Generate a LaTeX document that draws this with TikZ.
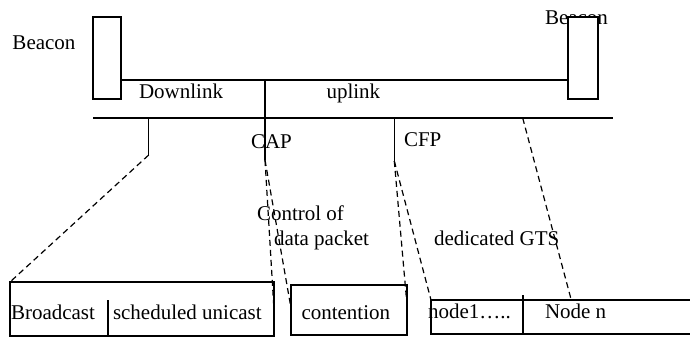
\documentclass[tikz,border=0pt]{standalone}
\usepackage{fontspec}
\setmainfont{Liberation Serif}
\begin{document}
\begin{tikzpicture}[x=1pt,y=-1pt,
 lbl/.style={anchor=base west, inner sep=0pt, outer sep=0pt, font=\fontsize{21}{25}\selectfont},
 solidline/.style={line width=1.4pt},
 dashline/.style={line width=1.2pt, dash pattern=on 6pt off 4pt},
 beaconbox/.style={draw, line width=1.4pt, fill=white, minimum height=82pt, inner sep=0pt, outer sep=0pt}]
\useasboundingbox (0,0) rectangle (690,338);

% labels
\node[lbl] (lbeacon) at (12.5,49.3) {Beacon};
\node[lbl] (rbeacon) at (545,24) {Beacon};
\node[lbl] (down) at (139,98.7) {Downlink};
\node[lbl] (up) at (326.5,98.7) {uplink};
\node[lbl] (cap) at (251,148.3) {CAP};
\node[lbl] (cfp) at (404,146.7) {CFP};
\node[lbl] (ctrl1) at (257,220) {Control of};
\node[lbl] (ctrl2) at (274,245) {data packet};
\node[lbl] (gts) at (434,245) {dedicated GTS};
\node[lbl] (bc) at (11,319) {Broadcast};
\node[lbl] (su) at (113,319) {scheduled unicast};
\node[lbl] (ct) at (301.5,319.3) {contention};
\node[lbl] (n1) at (428,318.3) {node1…..};
\node[lbl] (nn) at (545,318.3) {Node n};

% beacon boxes
\node[beaconbox, minimum width=28pt] (b1) at (107,58) {};
\node[beaconbox, minimum width=30pt] (b2) at (583,58) {};

% superframe lines
\coordinate (t1) at (121,80);
\coordinate (t2) at (568,80);
\draw[solidline] (t1) -- (t2);
\coordinate (s1) at (93,118);
\coordinate (s2) at (613,118);
\draw[solidline] (s1) -- (s2);

% vertical markers
\coordinate (capTop) at (265,80);
\coordinate (capBot) at (265,160);
\draw[solidline] (capTop) -- (capBot);
\coordinate (dlTop) at (148.7,118);
\coordinate (dlBot) at (148.7,155);
\draw[solidline] (dlTop) -- (dlBot);
\coordinate (cfpTop) at (394.3,118);
\coordinate (cfpBot) at (394.3,161);
\draw[solidline] (cfpTop) -- (cfpBot);
\coordinate (gtsTop) at (522.7,118);

% bottom boxes
\draw[solidline] (10,282) rectangle (274,336);
\draw[solidline] (108,300) -- (108,336);
\draw[solidline] (291,285) rectangle (407,335);
\draw[solidline] (690,300) -- (431,300) -- (431,334) -- (690,334);
\draw[solidline] (523,295) -- (523,334);

% dashed connectors
\coordinate (b1tl) at (10,282);
\coordinate (b1r) at (274,310);
\coordinate (b2l) at (291,308);
\coordinate (b2r) at (407,305);
\coordinate (b3l) at (431,300);
\coordinate (b3n) at (571,299);
\draw[dashline] (dlBot) -- (b1tl);
\draw[dashline] (capBot) -- (b1r);
\draw[dashline] (capBot) -- (b2l);
\draw[dashline] (cfpBot) -- (b2r);
\draw[dashline] (cfpBot) -- (b3l);
\draw[dashline] (gtsTop) -- (b3n);
\end{tikzpicture}
\end{document}
